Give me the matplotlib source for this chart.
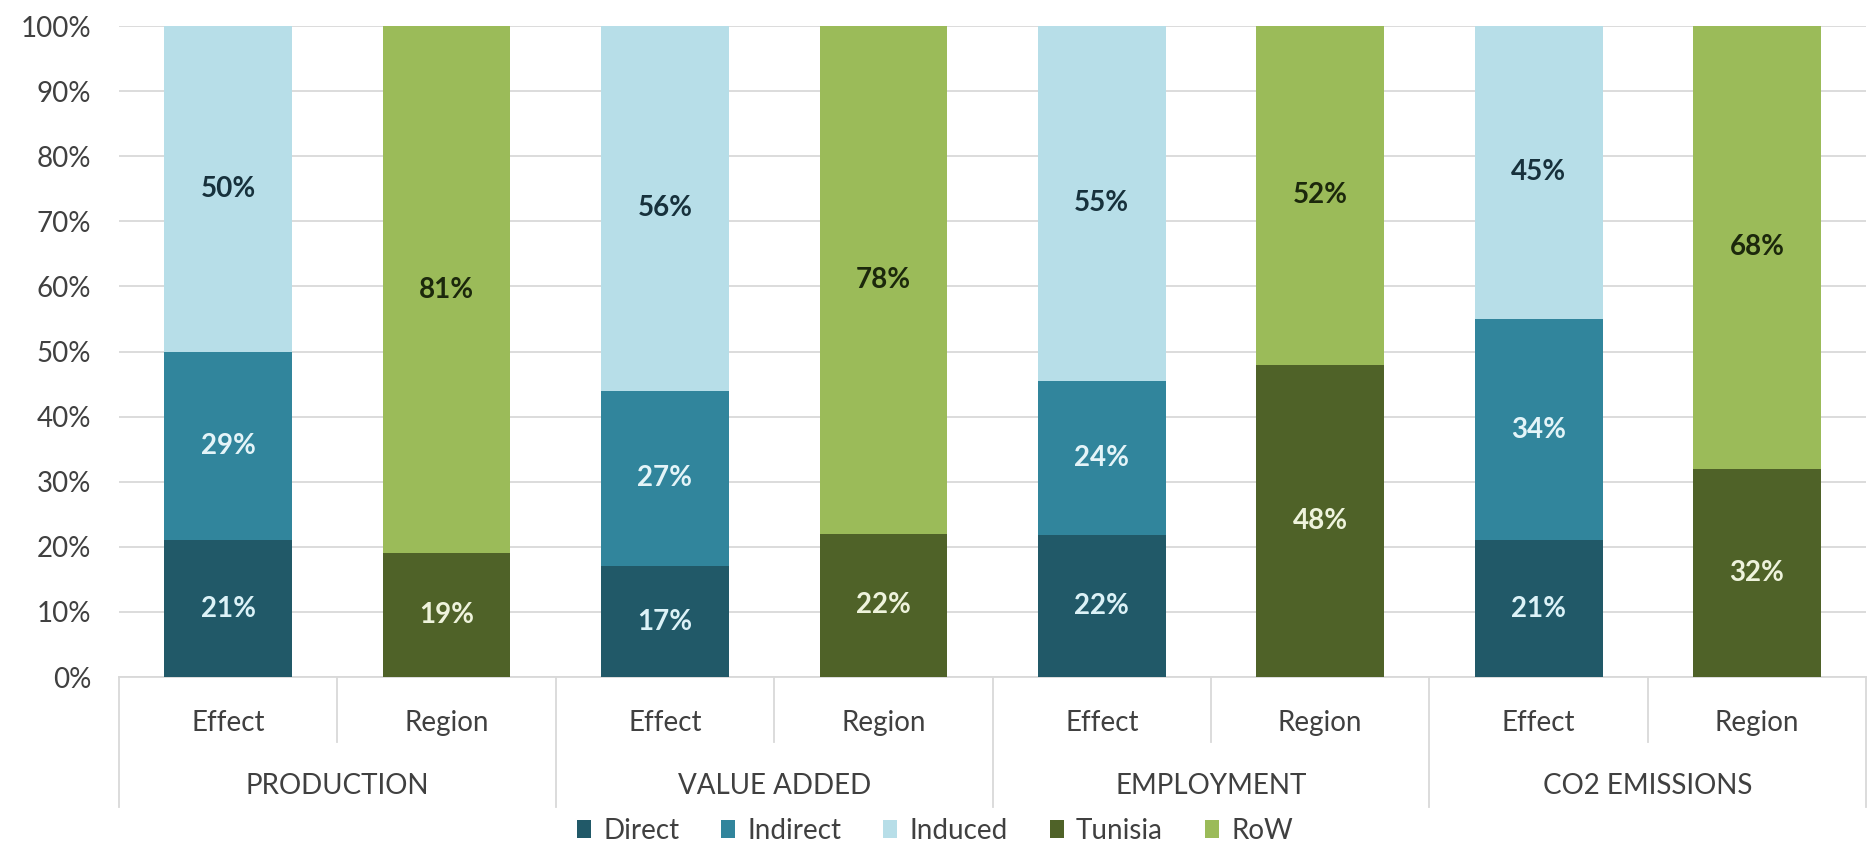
import matplotlib
matplotlib.use("Agg")
import matplotlib.pyplot as plt
from matplotlib.patches import Patch
import numpy as np

plt.rcParams['font.family'] = ['Lato', 'DejaVu Sans']

# Data (percent shares, as labelled)
groups = ["PRODUCTION", "VALUE ADDED", "EMPLOYMENT", "CO2 EMISSIONS"]
bar_kinds = ["Effect", "Region"]
direct = [21, 17, 22, 21]
indirect = [29, 27, 24, 34]
induced = [50, 56, 55, 45]
tunisia = [19, 22, 48, 32]
row = [81, 78, 52, 68]

series_names = ["Direct", "Indirect", "Induced", "Tunisia", "RoW"]
colors = {"Direct": "#215968", "Indirect": "#31859c", "Induced": "#b7dee8",
          "Tunisia": "#4f6228", "RoW": "#9bbb59"}
label_colors = {"Direct": "#dcf2f7", "Indirect": "#e4f4f8", "Induced": "#17313c",
                "Tunisia": "#eef3dc", "RoW": "#1c280c"}

fig = plt.figure(figsize=(18.7, 8.47), dpi=100)
ax = fig.add_axes([0.0636, 0.2007, 0.9344, 0.7686])

width = 0.585
text_col = "#404040"
fs = 20


def draw_stack(x, names, vals):
    total = float(sum(vals))
    bottom = 0.0
    for name, v in zip(names, vals):
        h = v / total * 100
        ax.bar(x, h, width, bottom=bottom, color=colors[name], zorder=2)
        ax.text(x, bottom + h / 2, f"{v}%", ha="center", va="center",
                fontsize=fs, fontweight="bold", color=label_colors[name], zorder=3)
        bottom += h


for g in range(len(groups)):
    draw_stack(2 * g, ["Direct", "Indirect", "Induced"],
               [direct[g], indirect[g], induced[g]])
    draw_stack(2 * g + 1, ["Tunisia", "RoW"], [tunisia[g], row[g]])

ax.set_xlim(-0.5, 2 * len(groups) - 0.5)
ax.set_ylim(0, 100)
ax.set_yticks(np.arange(0, 101, 10))
ax.set_yticklabels([f"{t}%" for t in range(0, 101, 10)], fontsize=fs, color=text_col)
ax.yaxis.grid(True, color="#d9d9d9", linewidth=1.3, zorder=0)
ax.set_axisbelow(True)
for s in ax.spines.values():
    s.set_visible(False)
ax.tick_params(axis="y", length=0, pad=20)
ax.tick_params(axis="x", length=0, pad=24)

ax.set_xticks(np.arange(2 * len(groups)))
ax.set_xticklabels(bar_kinds * len(groups), fontsize=fs, color=text_col)

trans = ax.get_xaxis_transform()
# baseline
ax.plot([-0.5, 2 * len(groups) - 0.5], [0, 0], transform=trans, color="#d9d9d9",
        linewidth=1.3, clip_on=False, zorder=1)
# category separators
for k in range(2 * len(groups) + 1):
    xs = k - 0.5
    y_end = -0.200 if k % 2 == 0 else -0.100
    ax.plot([xs, xs], [0, y_end], transform=trans, color="#d9d9d9",
            linewidth=1.3, clip_on=False)

for g, name in enumerate(groups):
    ax.text(2 * g + 0.5, -0.168, name, transform=trans, ha="center", va="center",
            fontsize=fs, color=text_col)

handles = [Patch(facecolor=colors[n], edgecolor="none") for n in series_names]
fig.legend(handles, series_names, loc="center", bbox_to_anchor=(0.5, 0.019),
           ncol=5, frameon=False, fontsize=fs, handlelength=0.5, handleheight=0.6,
           handletextpad=0.45, columnspacing=1.5, labelcolor=text_col)

fig.savefig("out.png", dpi=100)
